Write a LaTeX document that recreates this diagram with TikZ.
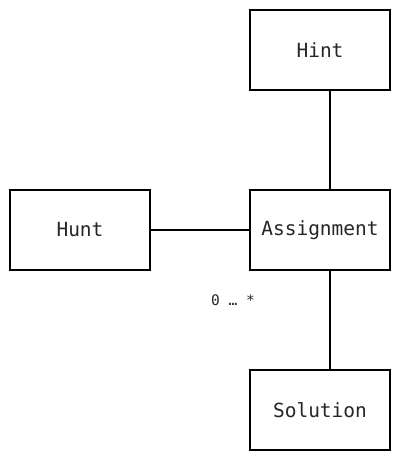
\documentclass[tikz,border=0pt]{standalone}
\usepackage{fontspec}
\setmonofont{DejaVu Sans Mono}
\begin{document}
\begin{tikzpicture}[x=1pt,y=-1pt,
  cls/.style={draw=black,line width=1.6pt,minimum width=140pt,minimum height=80pt,inner sep=0pt,font=\ttfamily\fontsize{19.5}{23}\selectfont,text=black!85},
  link/.style={line width=1.6pt},
  mult/.style={font=\ttfamily\fontsize{14.5}{17}\selectfont,text=black!85}]
\useasboundingbox (0,0) rectangle (400,460);
\node[cls] (hint) at (320,50) {Hint};
\node[cls] (hunt) at (80,230) {Hunt};
\node[cls] (asg) at (320,230) {Assignment};
\node[cls] (sol) at (320,410) {Solution};
\draw[link] ([xshift=10pt]hint.south) -- ([xshift=10pt]asg.north);
\draw[link] (hunt) -- (asg);
\draw[link] ([xshift=10pt]asg.south) -- ([xshift=10pt]sol.north);
\node[mult] (m) at (233,300) {0 … *};
\end{tikzpicture}
\end{document}
